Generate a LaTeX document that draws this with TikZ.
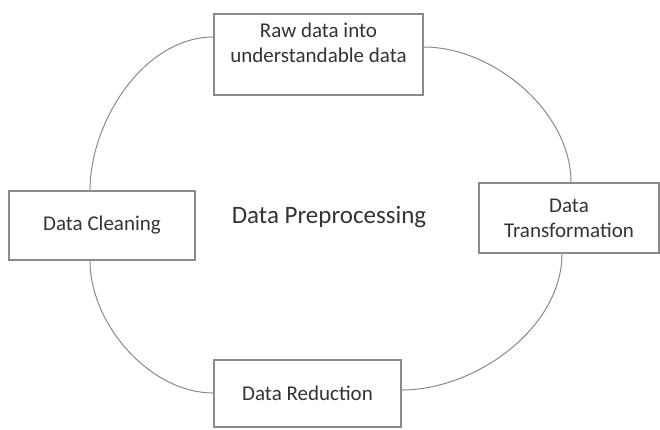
\documentclass[tikz,border=0pt]{standalone}
\usepackage{fontspec}
\setmainfont{Carlito}
\definecolor{edgegray}{HTML}{8A8A8A}
\definecolor{txtgray}{HTML}{333333}
\tikzset{
  stagebox/.style={draw=edgegray, line width=1.2pt, inner sep=0pt},
  stagetxt/.style={text=txtgray, align=center, font=\fontsize{21}{25}\selectfont},
  flow/.style={draw=edgegray, line width=1pt},
}
\begin{document}
\begin{tikzpicture}[x=1pt, y=1pt]
        \useasboundingbox (0,0) rectangle (660,-429);
        \draw (318.5,-54.5) node[stagebox, minimum width=209pt, minimum height=81pt](raw){};
        \draw (318.5,-42.5) node[stagetxt](rawtxt){Raw data into\\understandable data};
        \draw (102,-225.5) node[stagebox, stagetxt, minimum width=186pt, minimum height=69pt](clean){Data Cleaning};
        \draw (569,-218) node[stagebox, stagetxt, minimum width=180pt, minimum height=70pt](trans){Data\\Transformation};
        \draw (307.5,-393.5) node[stagebox, stagetxt, minimum width=187pt, minimum height=67pt](reduct){Data Reduction};
        \draw (329,-217) node[text=txtgray, font=\fontsize{25}{30}\selectfont](prep){Data Preprocessing};
        \draw[flow] ([yshift=17.5pt]raw.west) to[out=180, in=90, looseness=0.9] ([xshift=-12pt]clean.north);
        \draw[flow] ([yshift=7.5pt]raw.east) to[out=0, in=90, looseness=0.9] ([xshift=2pt]trans.north);
        \draw[flow] ([xshift=-12pt]clean.south) to[out=-90, in=180, looseness=0.9] ([yshift=0.5pt]reduct.west);
        \draw[flow] ([xshift=-7pt]trans.south) to[out=-90, in=0, looseness=0.9] ([yshift=3.5pt]reduct.east);
    \end{tikzpicture}
\end{document}
